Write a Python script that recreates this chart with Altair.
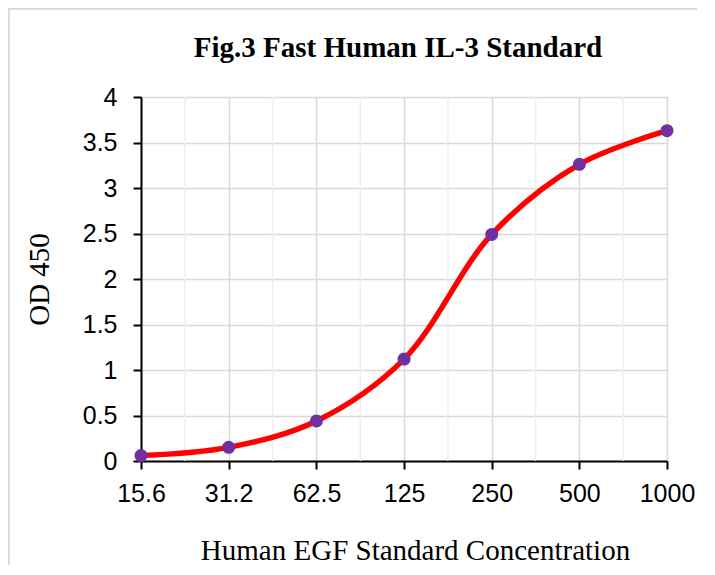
import altair as alt
import numpy as np
import pandas as pd

conc = [15.6, 31.2, 62.5, 125, 250, 500, 1000]
od = [0.06, 0.15, 0.44, 1.12, 2.49, 3.26, 3.63]
y_ticks = [0, 0.5, 1, 1.5, 2, 2.5, 3, 3.5, 4]
title_text = "Fig.3 Fast Human IL-3 Standard"

df = pd.DataFrame({"conc": conc, "od": od})
mids = [float(np.sqrt(a * b)) for a, b in zip(conc[:-1], conc[1:])]
minor = pd.DataFrame({"m": mids})

xscale = alt.Scale(type="log", base=2, domain=[15.6, 1000], nice=False)
yscale = alt.Scale(domain=[0, 4], nice=False)

x_axis = alt.Axis(
    values=conc, labelExpr="format(datum.value, '~g')",
    labelFlush=False, labelOverlap=False, labelBound=False,
    grid=True, gridColor="#d9d9d9", gridWidth=1.5,
    domainColor="black", domainWidth=2, tickColor="black", tickWidth=2, tickSize=8,
    labelFont="Liberation Sans", labelFontSize=25, labelColor="black", labelPadding=12,
    title="Human EGF Standard Concentration", titleFont="Liberation Serif",
    titleFontSize=29, titleFontWeight="normal", titleColor="black",
    titleX=274, titleY=98, titleBaseline="alphabetic",
)
y_axis = alt.Axis(
    values=y_ticks, format="~g",
    grid=True, gridColor="#d9d9d9", gridWidth=1.5,
    domainColor="black", domainWidth=2, tickColor="black", tickWidth=2, tickSize=8,
    labelFont="Liberation Sans", labelFontSize=25, labelColor="black", labelPadding=16,
    title="OD 450", titleFont="Liberation Serif", titleFontSize=29,
    titleFontWeight="normal", titleColor="black",
    titleX=-102, titleY=182, titleBaseline="middle",
)

minor_grid = alt.Chart(minor).mark_rule(color="#efefef", strokeWidth=1.5).encode(
    x=alt.X("m:Q", scale=xscale, axis=x_axis)
)

base = alt.Chart(df).encode(
    x=alt.X("conc:Q", scale=xscale, axis=x_axis),
    y=alt.Y("od:Q", scale=yscale, axis=y_axis),
)
line = base.mark_line(color="#ff0000", strokeWidth=5.5, interpolate="catmull-rom")
pts = base.mark_circle(color="#7030a0", size=170, opacity=1)

title = alt.Chart(pd.DataFrame({"t": [title_text]})).mark_text(
    font="Liberation Serif", fontSize=29, fontWeight="bold", color="black",
    align="center", baseline="alphabetic",
).encode(text="t:N", x=alt.value(257), y=alt.value(-40))

frame_top = alt.Chart(df).mark_rule(color="#d9d9d9", strokeWidth=1.5).encode(
    x=alt.value(-133), x2=alt.value(570), y=alt.value(-88.5)
)
frame_left = alt.Chart(df).mark_rule(color="#d9d9d9", strokeWidth=1.5).encode(
    x=alt.value(-132.5), y=alt.value(-89), y2=alt.value(475)
)

chart = alt.layer(minor_grid, line, pts, title, frame_top, frame_left).properties(
    width=526, height=364,
    padding={"left": 133, "top": 89, "right": 30, "bottom": 104},
    autosize=alt.AutoSizeParams(type="none"),
).configure_view(stroke=None)

chart.save("out.html", embed_options={"renderer": "svg", "actions": False})
